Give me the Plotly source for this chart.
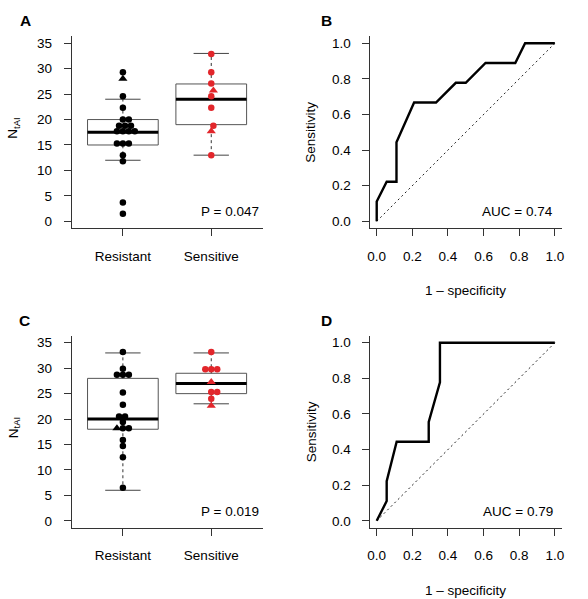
import math
import plotly.graph_objects as go

# ---------------- data ----------------
groups = ["Resistant", "Sensitive"]
group_pos = [1, 2]

# Panel A: N_tAI per patient (circles / triangles)
a_res_circle = [1.5, 3.7, 11.8, 13.0, 15.3, 15.3, 15.3, 17.7, 17.7, 17.7, 17.7,
                18.8, 18.8, 18.8, 20.0, 20.0, 22.3, 24.6, 29.3]
a_res_triangle = [28.0]
a_sen_circle = [13.0, 18.8, 22.3, 24.6, 27.1, 29.3, 32.9]
a_sen_triangle = [17.7, 25.7]

# Panel A box statistics [Resistant, Sensitive]
a_lo = [12, 13]
a_q1 = [15, 19]
a_med = [17.5, 24]
a_q3 = [20, 27]
a_hi = [24, 33]
a_p = "P = 0.047"

# Panel C
c_res_circle = [6.5, 12.5, 14.7, 15.9, 18.2, 18.2, 19.4, 20.5, 20.5, 22.8, 25.2,
                28.7, 28.7, 28.7, 29.9, 33.2]
c_res_triangle = [18.2]
c_sen_circle = [24.0, 25.3, 25.3, 29.8, 29.8, 29.8, 33.2]
c_sen_triangle = [22.6, 27.3]

c_lo = [6, 23]
c_q1 = [18, 25]
c_med = [20, 27]
c_q3 = [28, 29]
c_hi = [33, 33]
c_p = "P = 0.019"

# Panel B ROC
b_fpr = [0.0, 0.0, 0.056, 0.111, 0.111, 0.21, 0.333, 0.444, 0.5, 0.611, 0.778, 0.833, 1.0]
b_tpr = [0.0, 0.111, 0.222, 0.222, 0.444, 0.667, 0.667, 0.778, 0.778, 0.889, 0.889, 1.0, 1.0]
b_auc = "AUC = 0.74"

# Panel D ROC
d_fpr = [0.0, 0.056, 0.056, 0.112, 0.292, 0.292, 0.355, 0.355, 1.0]
d_tpr = [0.0, 0.111, 0.222, 0.444, 0.444, 0.556, 0.778, 1.0, 1.0]
d_auc = "AUC = 0.79"

y_ticks_box = [0, 5, 10, 15, 20, 25, 30, 35]
roc_ticks = [0.0, 0.2, 0.4, 0.6, 0.8, 1.0]

# ---------------- style ----------------
W, H = 588, 599
FONT = "Liberation Sans, Arial, Helvetica, sans-serif"
FS = 13.5
RED = "#E2262B"
AX = "#333333"

XL = [70.1 / W, 262.3 / W]
XR = [370.1 / W, 563.8 / W]
YT = [1 - 228.8 / H, 1 - 36.2 / H]
YB = [1 - 528.8 / H, 1 - 336.2 / H]

BOX_RANGE_X = [0.42, 2.58]
BOX_RANGE_Y = [-1.4, 36.4]
ROC_RANGE = [-0.04, 1.04]

# pixel scales for swarm layout
PX_X = (XL[1] - XL[0]) * W / (BOX_RANGE_X[1] - BOX_RANGE_X[0])
PX_Y = (YT[1] - YT[0]) * H / (BOX_RANGE_Y[1] - BOX_RANGE_Y[0])
DIAM = 6.0


def swarm(vals):
    order = sorted(range(len(vals)), key=lambda i: vals[i])
    placed = []
    out = [0.0] * len(vals)
    for i in order:
        y = vals[i] * PX_Y
        cands = [0.0]
        for px, py in placed:
            dy = abs(py - y)
            if dy < DIAM:
                dx = math.sqrt(DIAM * DIAM - dy * dy)
                cands += [px + dx, px - dx]
        cands = sorted(set(cands), key=lambda c: (round(abs(c), 6), -c))
        x = 0.0
        for c in cands:
            if all((c - px) ** 2 + (y - py) ** 2 >= DIAM * DIAM - 1e-6 for px, py in placed):
                x = c
                break
        placed.append((x, y))
        out[i] = x / PX_X
    return out


fig = go.Figure()


def add_box_panel(xa, ya, lo, q1, med, q3, hi, pts):
    for i, c in enumerate(group_pos):
        hw, cw = 0.4, 0.2
        fig.add_trace(go.Scatter(
            x=[c - hw, c + hw, c + hw, c - hw, c - hw], y=[q1[i], q1[i], q3[i], q3[i], q1[i]],
            mode="lines", line=dict(color="#555555", width=1), xaxis=xa, yaxis=ya,
            showlegend=False, hoverinfo="skip"))
        fig.add_trace(go.Scatter(
            x=[c, c, None, c, c], y=[lo[i], q1[i], None, q3[i], hi[i]],
            mode="lines", line=dict(color="#333333", width=1, dash="3px,3px"),
            xaxis=xa, yaxis=ya, showlegend=False, hoverinfo="skip"))
        fig.add_trace(go.Scatter(
            x=[c - cw, c + cw, None, c - cw, c + cw], y=[lo[i], lo[i], None, hi[i], hi[i]],
            mode="lines", line=dict(color="#444444", width=1),
            xaxis=xa, yaxis=ya, showlegend=False, hoverinfo="skip"))
        fig.add_trace(go.Scatter(
            x=[c - hw, c + hw], y=[med[i], med[i]],
            mode="lines", line=dict(color="black", width=3),
            xaxis=xa, yaxis=ya, showlegend=False, hoverinfo="skip"))
    for gi, (circ, tri, col) in enumerate(pts):
        vals = circ + tri
        offs = swarm(vals)
        xs = [group_pos[gi] + o for o in offs]
        n = len(circ)
        fig.add_trace(go.Scatter(
            x=xs[:n], y=vals[:n], mode="markers",
            marker=dict(symbol="circle", size=6.5, color=col, line=dict(width=0)),
            xaxis=xa, yaxis=ya, showlegend=False))
        fig.add_trace(go.Scatter(
            x=xs[n:], y=vals[n:], mode="markers",
            marker=dict(symbol="triangle-up", size=8, color=col, line=dict(width=0)),
            xaxis=xa, yaxis=ya, showlegend=False))


add_box_panel("x", "y", a_lo, a_q1, a_med, a_q3, a_hi,
              [(a_res_circle, a_res_triangle, "black"), (a_sen_circle, a_sen_triangle, RED)])
add_box_panel("x3", "y3", c_lo, c_q1, c_med, c_q3, c_hi,
              [(c_res_circle, c_res_triangle, "black"), (c_sen_circle, c_sen_triangle, RED)])


def add_roc(xa, ya, fpr, tpr):
    fig.add_trace(go.Scatter(x=[0, 1], y=[0, 1], mode="lines",
                             line=dict(color="#222222", width=1, dash="2px,3px"),
                             xaxis=xa, yaxis=ya, showlegend=False, hoverinfo="skip"))
    fig.add_trace(go.Scatter(x=fpr, y=tpr, mode="lines",
                             line=dict(color="black", width=2.4),
                             xaxis=xa, yaxis=ya, showlegend=False))


add_roc("x2", "y2", b_fpr, b_tpr)
add_roc("x4", "y4", d_fpr, d_tpr)

common = dict(showline=True, linecolor=AX, linewidth=1, ticks="outside", ticklen=7,
              tickcolor=AX, tickwidth=1, showgrid=False, zeroline=False, mirror=False,
              tickfont=dict(family=FONT, size=FS, color="black"))

fig.update_layout(
    width=W, height=H, margin=dict(l=0, r=0, t=0, b=0),
    paper_bgcolor="white", plot_bgcolor="white", showlegend=False,
    font=dict(family=FONT, size=FS, color="black"),
    xaxis=dict(domain=XL, anchor="y", range=BOX_RANGE_X, tickvals=group_pos, ticktext=groups,
               ticklabelstandoff=8, **common),
    yaxis=dict(domain=YT, anchor="x", range=BOX_RANGE_Y, tickvals=y_ticks_box,
               ticklabelstandoff=9, **common),
    xaxis2=dict(domain=XR, anchor="y2", range=ROC_RANGE, tickvals=roc_ticks, tickformat=".1f",
                ticklabelstandoff=8, **common),
    yaxis2=dict(domain=YT, anchor="x2", range=ROC_RANGE, tickvals=roc_ticks, tickformat=".1f",
                ticklabelstandoff=8, **common),
    xaxis3=dict(domain=XL, anchor="y3", range=BOX_RANGE_X, tickvals=group_pos, ticktext=groups,
                ticklabelstandoff=8, **common),
    yaxis3=dict(domain=YB, anchor="x3", range=BOX_RANGE_Y, tickvals=y_ticks_box,
                ticklabelstandoff=9, **common),
    xaxis4=dict(domain=XR, anchor="y4", range=ROC_RANGE, tickvals=roc_ticks, tickformat=".1f",
                ticklabelstandoff=8, **common),
    yaxis4=dict(domain=YB, anchor="x4", range=ROC_RANGE, tickvals=roc_ticks, tickformat=".1f",
                ticklabelstandoff=8, **common),
)


def ann(text, px, py, xanchor="center", angle=0, size=FS, bold=False):
    fig.add_annotation(
        text=f"<b>{text}</b>" if bold else text, x=px / W, y=1 - py / H,
        xref="paper", yref="paper", xanchor=xanchor, yanchor="middle",
        textangle=angle, showarrow=False,
        font=dict(family=FONT, size=size, color="black"))


for lab, px, py in [("A", 24, 21), ("B", 327, 21), ("C", 23, 321), ("D", 327, 321)]:
    ann(lab, px, py, size=15.5, bold=True)

ann("N<sub>tAI</sub>", 12, 128, angle=-90)
ann("N<sub>tAI</sub>", 12, 428, angle=-90)
ann("Sensitivity", 311, 132, angle=-90)
ann("Sensitivity", 311, 432, angle=-90)
ann("1 \u2013 specificity", 467, 291)
ann("1 \u2013 specificity", 467, 591)
ann(a_p, 260.5, 212, xanchor="right")
ann(c_p, 260.5, 512, xanchor="right")
ann(b_auc, 557, 212, xanchor="right")
ann(d_auc, 557, 512, xanchor="right")

fig.write_html(
    "out.html",
    config={"displayModeBar": False},
    post_script="document.body.style.margin='0px';document.body.style.padding='0px';"
                "document.documentElement.style.overflow='hidden';",
)
